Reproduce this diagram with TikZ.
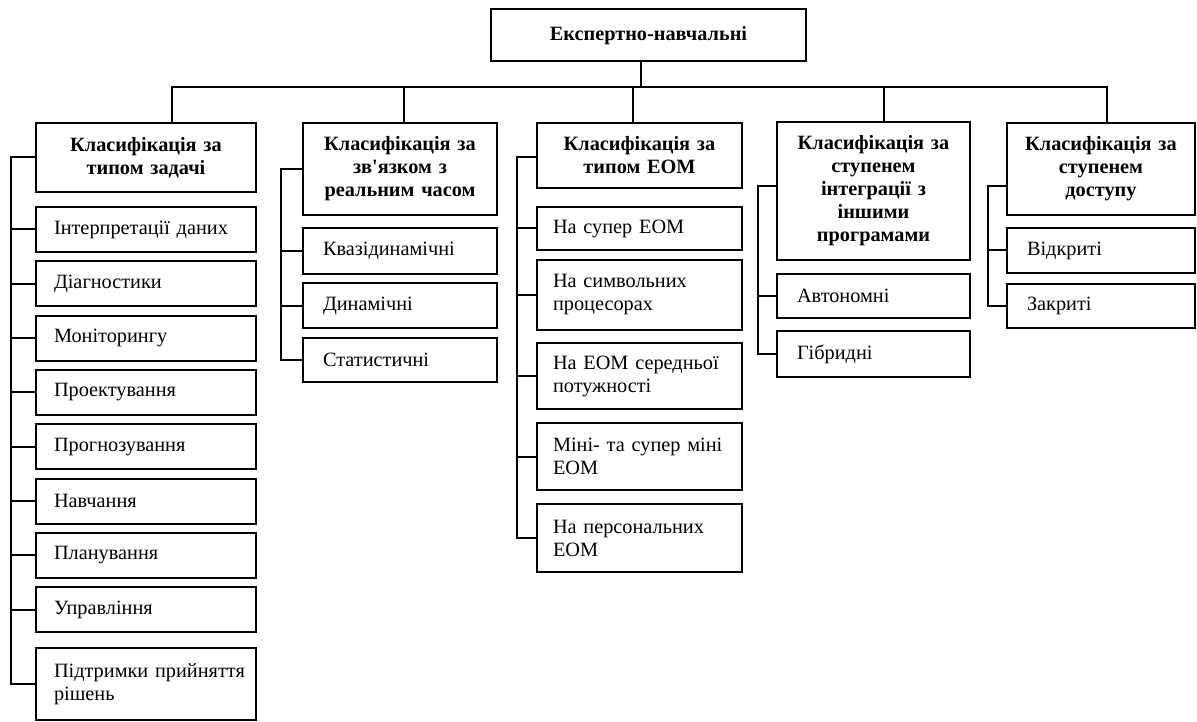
\documentclass[tikz,border=0pt]{standalone}
\usepackage{fontspec}
\setmainfont{Liberation Serif}[Ligatures=TeXOff]
\usetikzlibrary{positioning}

\begin{document}
\begin{tikzpicture}[
    x=1pt, y=1pt,
    node distance=9.3pt,
    box/.style={rectangle, draw, line width=2pt, outer sep=0pt, inner xsep=20pt, inner ysep=2pt, align=left, font=\fontsize{20.3}{23}\selectfont},
    head/.style={box, inner xsep=6pt, align=center, font=\fontsize{20.3}{23}\selectfont\bfseries},
    link/.style={line width=2pt}
]
\useasboundingbox (0,0) rectangle (1197,-722);

\node[head, text width=303pt, minimum height=51.5pt] (root) at (648.5,-35.25) {Експертно-навчальні};

\node[head, text width=208pt, minimum height=69pt, anchor=north] (task) at (146,-123) {Класифікація за\\типом задачі};
\node[head, text width=182pt, minimum height=92pt, anchor=north] (realtime) at (400,-123) {Класифікація за\\зв'язком з\\реальним часом};
\node[head, text width=193pt, minimum height=65pt, anchor=north] (eom) at (639.5,-123) {Класифікація за\\типом ЕОМ};
\node[head, text width=181pt, minimum height=138pt, anchor=north] (integr) at (873.5,-122) {Класифікація за\\ступенем\\інтеграції з\\іншими\\програмами};
\node[head, text width=176pt, minimum height=92pt, anchor=north] (access) at (1101,-123) {Класифікація за\\ступенем\\доступу};

\node[box, inner xsep=18pt, text width=184pt, minimum height=45pt, below=15pt of task] (interp) {Інтерпретації даних};
\node[box, inner xsep=18pt, text width=184pt, minimum height=45pt, below=of interp] (diag) {Діагностики};
\node[box, inner xsep=18pt, text width=184pt, minimum height=45pt, below=of diag] (monit) {Моніторингу};
\node[box, inner xsep=18pt, text width=184pt, minimum height=45pt, below=of monit] (design) {Проектування};
\node[box, inner xsep=18pt, text width=184pt, minimum height=45pt, below=of design] (forecast) {Прогнозування};
\node[box, inner xsep=18pt, text width=184pt, minimum height=45pt, below=of forecast] (teach) {Навчання};
\node[box, inner xsep=18pt, text width=184pt, minimum height=45pt, below=of teach] (plan) {Планування};
\node[box, inner xsep=18pt, text width=184pt, minimum height=45pt, below=of plan] (control) {Управління};
\node[box, inner xsep=18pt, text width=184pt, minimum height=72pt, below=16pt of control] (support) {Підтримки~прийняття\\рішень};

\node[box, text width=154pt, minimum height=46pt, below=13pt of realtime] (quasi) {Квазідинамічні};
\node[box, text width=154pt, minimum height=45pt, below=of quasi] (dynamic) {Динамічні};
\node[box, text width=154pt, minimum height=44pt, below=of dynamic] (static) {Статистичні};

\node[box, inner xsep=16pt, text width=173pt, minimum height=43pt, below=19pt of eom] (super) {На супер ЕОМ};
\node[box, inner xsep=16pt, text width=173pt, minimum height=70pt, below=10pt of super] (symbol) {На символьних\\процесорах};
\node[box, inner xsep=16pt, text width=173pt, minimum height=66pt, below=13pt of symbol] (medium) {На ЕОМ середньої\\потужності};
\node[box, inner xsep=16pt, text width=173pt, minimum height=67pt, below=14pt of medium] (mini) {Міні- та супер міні\\ЕОМ};
\node[box, inner xsep=16pt, text width=173pt, minimum height=68pt, below=14pt of mini] (personal) {На персональних\\ЕОМ};

\node[box, text width=153pt, minimum height=44pt, below=14pt of integr] (auton) {Автономні};
\node[box, text width=153pt, minimum height=46pt, below=13pt of auton] (hybrid) {Гібридні};

\node[box, text width=148pt, minimum height=45pt, below=13pt of access] (open) {Відкриті};
\node[box, text width=148pt, minimum height=44pt, below=11pt of open] (closed) {Закриті};

\coordinate (bus) at (0,-87);
\draw[link] ([xshift=-7.5pt]root.south) -- ([xshift=-7.5pt]root.south |- bus);
\draw[link] ([xshift=26pt]task.north) |- ([xshift=6pt]access.north |- bus) -- ([xshift=6pt]access.north);
\draw[link] ([xshift=4pt]realtime.north) -- ([xshift=4pt]realtime.north |- bus);
\draw[link] ([xshift=-6.5pt]eom.north) -- ([xshift=-6.5pt]eom.north |- bus);
\draw[link] ([xshift=10.5pt]integr.north) -- ([xshift=10.5pt]integr.north |- bus);

\draw[link] (task.west) -- ++(-25,0) coordinate (sp1) |- (support.west);
\draw[link] (sp1 |- interp.west) -- (interp.west) (sp1 |- diag.west) -- (diag.west)
    (sp1 |- monit.west) -- (monit.west) (sp1 |- design.west) -- (design.west)
    (sp1 |- forecast.west) -- (forecast.west) (sp1 |- teach.west) -- (teach.west)
    (sp1 |- plan.west) -- (plan.west) (sp1 |- control.west) -- (control.west);

\draw[link] (realtime.west) -- ++(-22,0) coordinate (sp2) |- (static.west);
\draw[link] (sp2 |- quasi.west) -- (quasi.west) (sp2 |- dynamic.west) -- (dynamic.west);

\draw[link] ([yshift=-2pt]eom.west) -- ++(-20,0) coordinate (sp3) |- (personal.west);
\draw[link] (sp3 |- super.west) -- (super.west) (sp3 |- symbol.west) -- (symbol.west)
    (sp3 |- medium.west) -- (medium.west) (sp3 |- mini.west) -- (mini.west);

\draw[link] ([yshift=5pt]integr.west) -- ++(-19,0) coordinate (sp4) |- (hybrid.west);
\draw[link] (sp4 |- auton.west) -- (auton.west);

\draw[link] ([yshift=-17pt]access.west) -- ++(-19,0) coordinate (sp5) |- (closed.west);
\draw[link] (sp5 |- open.west) -- (open.west);

\end{tikzpicture}
\end{document}
